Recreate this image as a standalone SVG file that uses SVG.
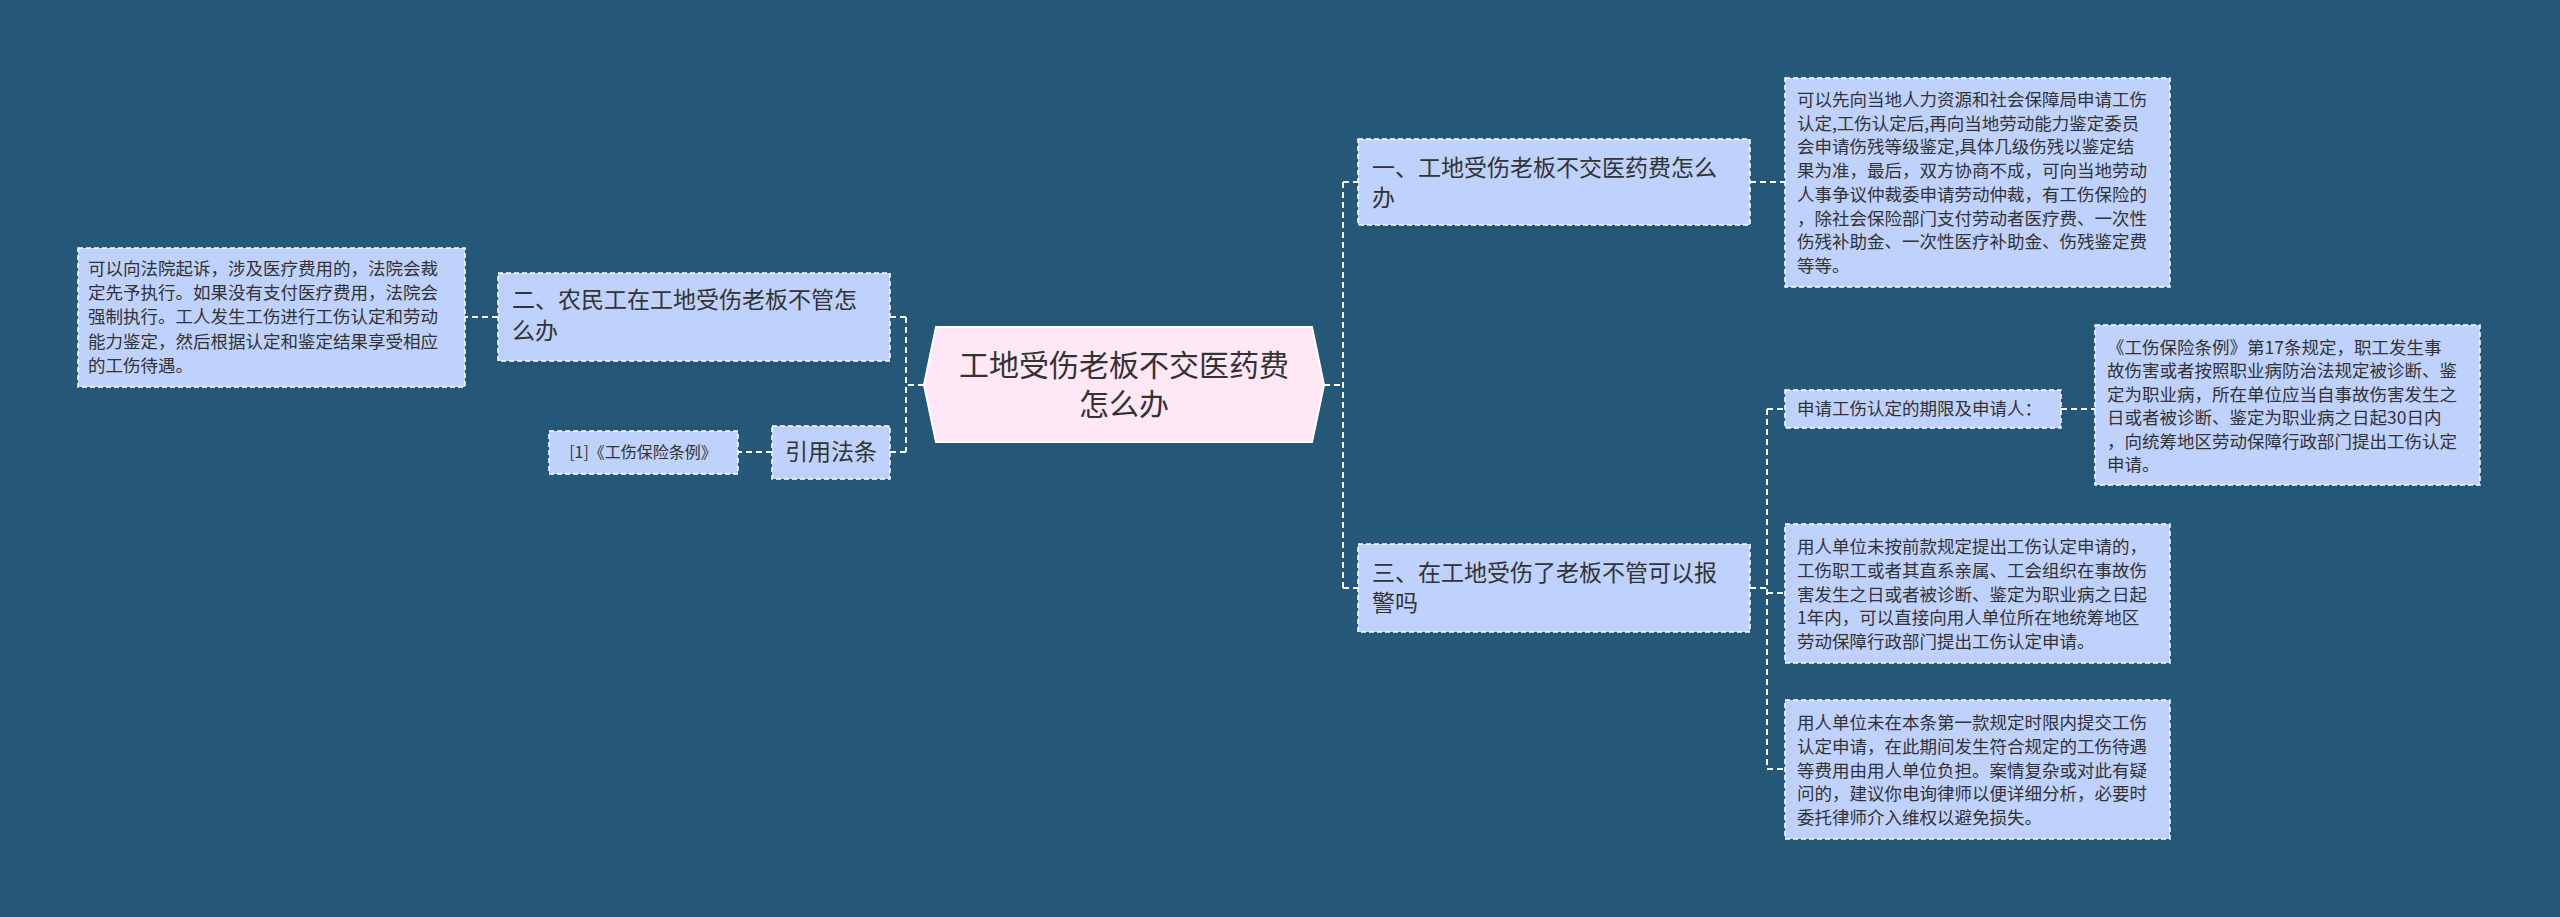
<svg xmlns="http://www.w3.org/2000/svg" width="2560" height="917" viewBox="0 0 2560 917">
<style>
.bg{fill:#245778}
.box{fill:#bfd1fd;stroke:#ffffff;stroke-width:1.5;stroke-dasharray:5 3}
.ctr{fill:#ffe7f6;stroke:#ffffff;stroke-width:2}
.con{fill:none;stroke:#ffffff;stroke-width:2;stroke-dasharray:6 4}
text{font-family:"Noto Sans CJK SC","Noto Sans",sans-serif;fill:#333333}
.s{font-size:17.5px}
.m{font-size:23px}
.l{font-size:30px}
.xs{font-size:16px}
</style>
<rect class="bg" x="0" y="0" width="2560" height="917"/>
<g id="connectors">
<path class="con" d="M1324,385 H1343 M1343,182 V588 M1343,182 H1358 M1343,588 H1358"/>
<path class="con" d="M1750,182 H1785"/>
<path class="con" d="M1750,588 H1767 M1767,409 V769 M1767,409 H1785 M1767,593 H1785 M1767,769 H1785"/>
<path class="con" d="M2061,409 H2095"/>
<path class="con" d="M924,385 H906 M906,317 V452 M906,317 H890 M906,452 H890"/>
<path class="con" d="M498,317 H465"/>
<path class="con" d="M772,452 H738"/>
</g>
<g id="center">
<polygon class="ctr" points="936,327 1312,327 1324,385 1312,442 936,442 924,385"/>
<text class="l" text-anchor="middle"><tspan x="1124" y="376">工地受伤老板不交医药费</tspan><tspan x="1124" y="415">怎么办</tspan></text>
</g>
<g id="n1">
<rect class="box" x="1358" y="139" width="392" height="86"/>
<text class="m"><tspan x="1372" y="176">一、工地受伤老板不交医药费怎么</tspan><tspan x="1372" y="206">办</tspan></text>
</g>
<g id="n1a">
<rect class="box" x="1785" y="78" width="385" height="209"/>
<text class="s"><tspan x="1797" y="106">可以先向当地人力资源和社会保障局申请工伤</tspan><tspan x="1797" y="129.7">认定,工伤认定后,再向当地劳动能力鉴定委员</tspan><tspan x="1797" y="153.4">会申请伤残等级鉴定,具体几级伤残以鉴定结</tspan><tspan x="1797" y="177.1">果为准，最后，双方协商不成，可向当地劳动</tspan><tspan x="1797" y="200.8">人事争议仲裁委申请劳动仲裁，有工伤保险的</tspan><tspan x="1797" y="224.5">，除社会保险部门支付劳动者医疗费、一次性</tspan><tspan x="1797" y="248.2">伤残补助金、一次性医疗补助金、伤残鉴定费</tspan><tspan x="1797" y="271.9">等等。</tspan></text>
</g>
<g id="n3">
<rect class="box" x="1358" y="544" width="392" height="88"/>
<text class="m"><tspan x="1372" y="581">三、在工地受伤了老板不管可以报</tspan><tspan x="1372" y="611">警吗</tspan></text>
</g>
<g id="n3a">
<rect class="box" x="1785" y="390" width="276" height="38"/>
<text class="s"><tspan x="1797" y="415">申请工伤认定的期限及申请人：</tspan></text>
</g>
<g id="n3a1">
<rect class="box" x="2095" y="325" width="385" height="160"/>
<text class="s"><tspan x="2107" y="354">《工伤保险条例》第17条规定，职工发生事</tspan><tspan x="2107" y="377.4">故伤害或者按照职业病防治法规定被诊断、鉴</tspan><tspan x="2107" y="400.8">定为职业病，所在单位应当自事故伤害发生之</tspan><tspan x="2107" y="424.2">日或者被诊断、鉴定为职业病之日起30日内</tspan><tspan x="2107" y="447.6">，向统筹地区劳动保障行政部门提出工伤认定</tspan><tspan x="2107" y="471">申请。</tspan></text>
</g>
<g id="n3b">
<rect class="box" x="1785" y="524" width="385" height="139"/>
<text class="s"><tspan x="1797" y="553">用人单位未按前款规定提出工伤认定申请的，</tspan><tspan x="1797" y="576.75">工伤职工或者其直系亲属、工会组织在事故伤</tspan><tspan x="1797" y="600.5">害发生之日或者被诊断、鉴定为职业病之日起</tspan><tspan x="1797" y="624.25">1年内，可以直接向用人单位所在地统筹地区</tspan><tspan x="1797" y="648">劳动保障行政部门提出工伤认定申请。</tspan></text>
</g>
<g id="n3c">
<rect class="box" x="1785" y="700" width="385" height="139"/>
<text class="s"><tspan x="1797" y="729">用人单位未在本条第一款规定时限内提交工伤</tspan><tspan x="1797" y="752.75">认定申请，在此期间发生符合规定的工伤待遇</tspan><tspan x="1797" y="776.5">等费用由用人单位负担。案情复杂或对此有疑</tspan><tspan x="1797" y="800.25">问的，建议你电询律师以便详细分析，必要时</tspan><tspan x="1797" y="824">委托律师介入维权以避免损失。</tspan></text>
</g>
<g id="n2">
<rect class="box" x="498" y="273" width="392" height="88"/>
<text class="m"><tspan x="512" y="308">二、农民工在工地受伤老板不管怎</tspan><tspan x="512" y="339">么办</tspan></text>
</g>
<g id="n2a">
<rect class="box" x="78" y="248" width="387" height="139"/>
<text class="s"><tspan x="88" y="275">可以向法院起诉，涉及医疗费用的，法院会裁</tspan><tspan x="88" y="299.2">定先予执行。如果没有支付医疗费用，法院会</tspan><tspan x="88" y="323.4">强制执行。工人发生工伤进行工伤认定和劳动</tspan><tspan x="88" y="347.6">能力鉴定，然后根据认定和鉴定结果享受相应</tspan><tspan x="88" y="371.8">的工伤待遇。</tspan></text>
</g>
<g id="n4">
<rect class="box" x="772" y="426" width="118" height="53"/>
<text class="m" text-anchor="middle"><tspan x="831" y="460">引用法条</tspan></text>
</g>
<g id="n4a">
<rect class="box" x="549" y="431" width="189" height="43"/>
<text class="xs" text-anchor="middle"><tspan x="643" y="458">[1]《工伤保险条例》</tspan></text>
</g>
</svg>
